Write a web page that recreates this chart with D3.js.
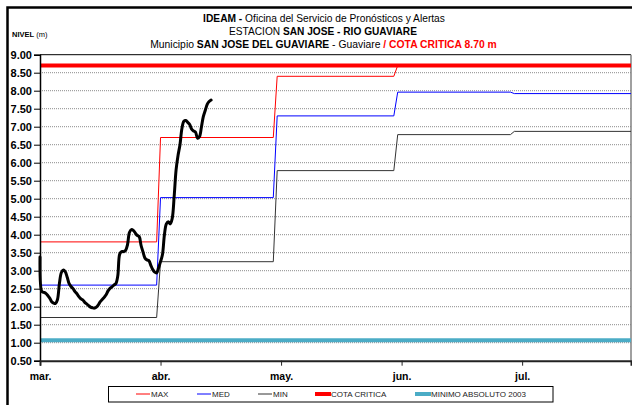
<!DOCTYPE html>
<html>
<head>
<meta charset="utf-8">
<script src="https://cdn.jsdelivr.net/npm/d3@7"></script>
<style>
  html, body { margin: 0; padding: 0; background: #fff; }
  svg { display: block; }
  text { font-family: "Liberation Sans", Arial, sans-serif; }
</style>
</head>
<body>
<script>
// ---- Data -------------------------------------------------------------
// Axis categories (one tick every 31 daily categories)
const xTickLabels = ["mar.", "abr.", "may.", "jun.", "jul."];
const yTickValues = [0.5, 1, 1.5, 2, 2.5, 3, 3.5, 4, 4.5, 5, 5.5, 6, 6.5, 7, 7.5, 8, 8.5, 9];

// Monthly reference levels (m), March..July
const refMonths = ["mar", "abr", "may", "jun", "jul"];
const maxLevel = [3.80, 6.70, 8.40, 8.70, 8.70];
const medLevel = [2.60, 5.03, 7.30, 7.96, 7.92];
const minLevel = [1.70, 3.25, 5.78, 6.78, 6.87];

// Thresholds (m)
const cotaCritica = 8.70;
const minimoAbsoluto2003 = 1.07;

// Observed level (m), two readings per day from 1 March
const obsLevel = [
  3.38, 2.42, 2.40, 2.37, 2.31, 2.24, 2.14, 2.10, 2.09, 2.20,
  2.65, 2.95, 3.02, 2.97, 2.82, 2.64, 2.56, 2.50, 2.42, 2.36,
  2.28, 2.22, 2.19, 2.12, 2.08, 2.03, 1.99, 1.97, 1.96, 1.99,
  2.05, 2.14, 2.20, 2.26, 2.33, 2.44, 2.51, 2.55, 2.60, 2.64,
  2.85, 3.46, 3.53, 3.53, 3.56, 3.72, 4.06, 4.14, 4.12, 4.05,
  3.98, 3.95, 3.70, 3.52, 3.35, 3.30, 3.28, 3.15, 3.03, 2.96,
  2.94, 3.08, 3.25, 3.45, 4.00, 4.30, 4.36, 4.30, 4.45, 5.05,
  5.80, 6.20, 6.50, 6.95, 7.15, 7.17, 7.12, 7.06, 6.93, 6.88,
  6.85, 6.68, 6.72, 6.98, 7.28, 7.45, 7.62, 7.70, 7.74
];

// ---- Layout -----------------------------------------------------------
const W = 632, H = 405;
const plot = { left: 40, right: 631, top: 54.7, bottom: 360.7 };
const startDate = new Date(2014, 2, 1);
const endDate = new Date(2014, 6, 31);

const svg = d3.select("body").append("svg")
  .attr("width", W).attr("height", H);

// outer chart frame
svg.append("rect")
  .attr("x", 7.5).attr("y", 7.5).attr("width", W + 20).attr("height", H + 20)
  .attr("fill", "none").attr("stroke", "#000").attr("stroke-width", 2.5);

const x = d3.scaleTime().domain([startDate, endDate]).range([plot.left, plot.right]);
const y = d3.scaleLinear().domain([0.5, 9]).range([plot.bottom, plot.top]);

// dotted gridlines
svg.append("g").selectAll("line")
  .data(yTickValues.filter(v => v > 0.5 && v < 9))
  .join("line")
  .attr("x1", plot.left).attr("x2", plot.right)
  .attr("y1", d => y(d)).attr("y2", d => y(d))
  .attr("stroke", "#8c8c8c").attr("stroke-width", 1)
  .attr("stroke-dasharray", "1,1");

// plot border: top and right
svg.append("line")
  .attr("x1", plot.left).attr("x2", plot.right)
  .attr("y1", plot.top).attr("y2", plot.top)
  .attr("stroke", "#000").attr("stroke-width", 1);
svg.append("line")
  .attr("x1", plot.right).attr("x2", plot.right)
  .attr("y1", plot.top).attr("y2", plot.bottom)
  .attr("stroke", "#808080").attr("stroke-width", 1.5);

// ---- Series -----------------------------------------------------------
function monthlySteps(levels) {
  return levels.flatMap((v, i) => {
    const a = d3.timeMonth.offset(startDate, i);
    const b = d3.timeDay.offset(d3.timeMonth.offset(startDate, i + 1), -1);
    return [{ date: a, v }, { date: b, v }];
  });
}

const line = d3.line().x(d => x(d.date)).y(d => y(d.v));
const series = svg.append("g").attr("fill", "none");

series.append("path").datum(monthlySteps(maxLevel))
  .attr("d", line).attr("stroke", "#ff0000").attr("stroke-width", 1);
series.append("path").datum(monthlySteps(medLevel))
  .attr("d", line).attr("stroke", "#0000ff").attr("stroke-width", 1);
series.append("path").datum(monthlySteps(minLevel))
  .attr("d", line).attr("stroke", "#333333").attr("stroke-width", 1);

series.append("path")
  .datum([{ date: startDate, v: cotaCritica }, { date: endDate, v: cotaCritica }])
  .attr("d", line).attr("stroke", "#ff0000").attr("stroke-width", 4);
series.append("path")
  .datum([{ date: startDate, v: minimoAbsoluto2003 }, { date: endDate, v: minimoAbsoluto2003 }])
  .attr("d", line).attr("stroke", "#4bacc6").attr("stroke-width", 4);

const obs = obsLevel.map((v, i) => ({ date: d3.timeHour.offset(startDate, 12 * i), v }));
series.append("path").datum(obs)
  .attr("d", line.curve(d3.curveCatmullRom.alpha(0.5)))
  .attr("stroke", "#000").attr("stroke-width", 3)
  .attr("stroke-linejoin", "round").attr("stroke-linecap", "round");

// ---- Axes -------------------------------------------------------------
const yAxis = svg.append("g")
  .attr("transform", `translate(${plot.left},0)`)
  .call(d3.axisLeft(y).tickValues(yTickValues).tickFormat(d3.format(".2f"))
    .tickSize(6).tickPadding(2));
yAxis.select(".domain").attr("stroke", "#000").attr("stroke-width", 1.5);
yAxis.selectAll("text").attr("font-size", 11).attr("font-weight", "bold")
  .attr("fill", "#000").attr("font-family", "Liberation Sans, Arial, sans-serif");

const tickDates = xTickLabels.map((_, i) => d3.timeDay.offset(startDate, 31 * i));
const xAxis = svg.append("g")
  .attr("transform", `translate(0,${plot.bottom})`)
  .call(d3.axisBottom(x).tickValues(tickDates).tickFormat((d, i) => xTickLabels[i])
    .tickSize(5).tickPadding(7));
xAxis.select(".domain").attr("stroke", "#222").attr("stroke-width", 2);
xAxis.selectAll(".tick line").attr("stroke", "#222");
xAxis.selectAll("text").attr("font-size", 10.5).attr("font-weight", "bold")
  .attr("fill", "#000").attr("font-family", "Liberation Sans, Arial, sans-serif");

// ---- Titles -----------------------------------------------------------
function titleLine(parts, cx, baseline, width, size) {
  const t = svg.append("text").attr("x", 0).attr("y", 0)
    .attr("text-anchor", "middle").attr("font-size", size);
  parts.forEach(p => {
    t.append("tspan").text(p.text)
      .attr("font-weight", p.bold ? "bold" : "normal")
      .attr("fill", p.color || "#000");
  });
  const w = t.node().getComputedTextLength();
  t.attr("transform", `translate(${cx},${baseline}) scale(${width / w},1)`);
  return t;
}

titleLine([{ text: "IDEAM - ", bold: true },
           { text: "Oficina del Servicio de Pronósticos y Alertas" }], 324, 22, 242, 11);
titleLine([{ text: "ESTACION " },
           { text: "SAN JOSE - RIO GUAVIARE", bold: true }], 323, 34.5, 188, 11);
titleLine([{ text: "Municipio " },
           { text: "SAN JOSE DEL GUAVIARE", bold: true },
           { text: " - Guaviare " },
           { text: " /  COTA CRITICA 8.70 m", bold: true, color: "#ff0000" }], 323.5, 47.5, 347, 11);

const nivel = svg.append("text").attr("x", 12).attr("y", 36.5).attr("font-size", 7.5);
nivel.append("tspan").text("NIVEL").attr("font-weight", "bold");
nivel.append("tspan").text(" (m)");

// ---- Legend -----------------------------------------------------------
const legend = svg.append("g");
legend.append("rect")
  .attr("x", 108.5).attr("y", 386.5).attr("width", 444.5).attr("height", 15.5)
  .attr("fill", "#fff").attr("stroke", "#000").attr("stroke-width", 1);

const legendItems = [
  { label: "MAX", color: "#ff0000", width: 1, x0: 136 },
  { label: "MED", color: "#0000ff", width: 1, x0: 197 },
  { label: "MIN", color: "#333333", width: 1, x0: 258 },
  { label: "COTA CRITICA", color: "#ff0000", width: 4, x0: 315 },
  { label: "MINIMO ABSOLUTO 2003", color: "#4bacc6", width: 4, x0: 415 }
];
const li = legend.selectAll("g.item").data(legendItems).join("g").attr("class", "item");
li.append("line")
  .attr("x1", d => d.x0).attr("x2", d => d.x0 + (d.width > 1 ? 16 : 14))
  .attr("y1", 394).attr("y2", 394)
  .attr("stroke", d => d.color).attr("stroke-width", d => d.width);
li.append("text")
  .attr("x", d => d.x0 + (d.width > 1 ? 16 : 15)).attr("y", 397)
  .attr("font-size", 8).attr("fill", "#222")
  .text(d => d.label);
</script>
</body>
</html>
